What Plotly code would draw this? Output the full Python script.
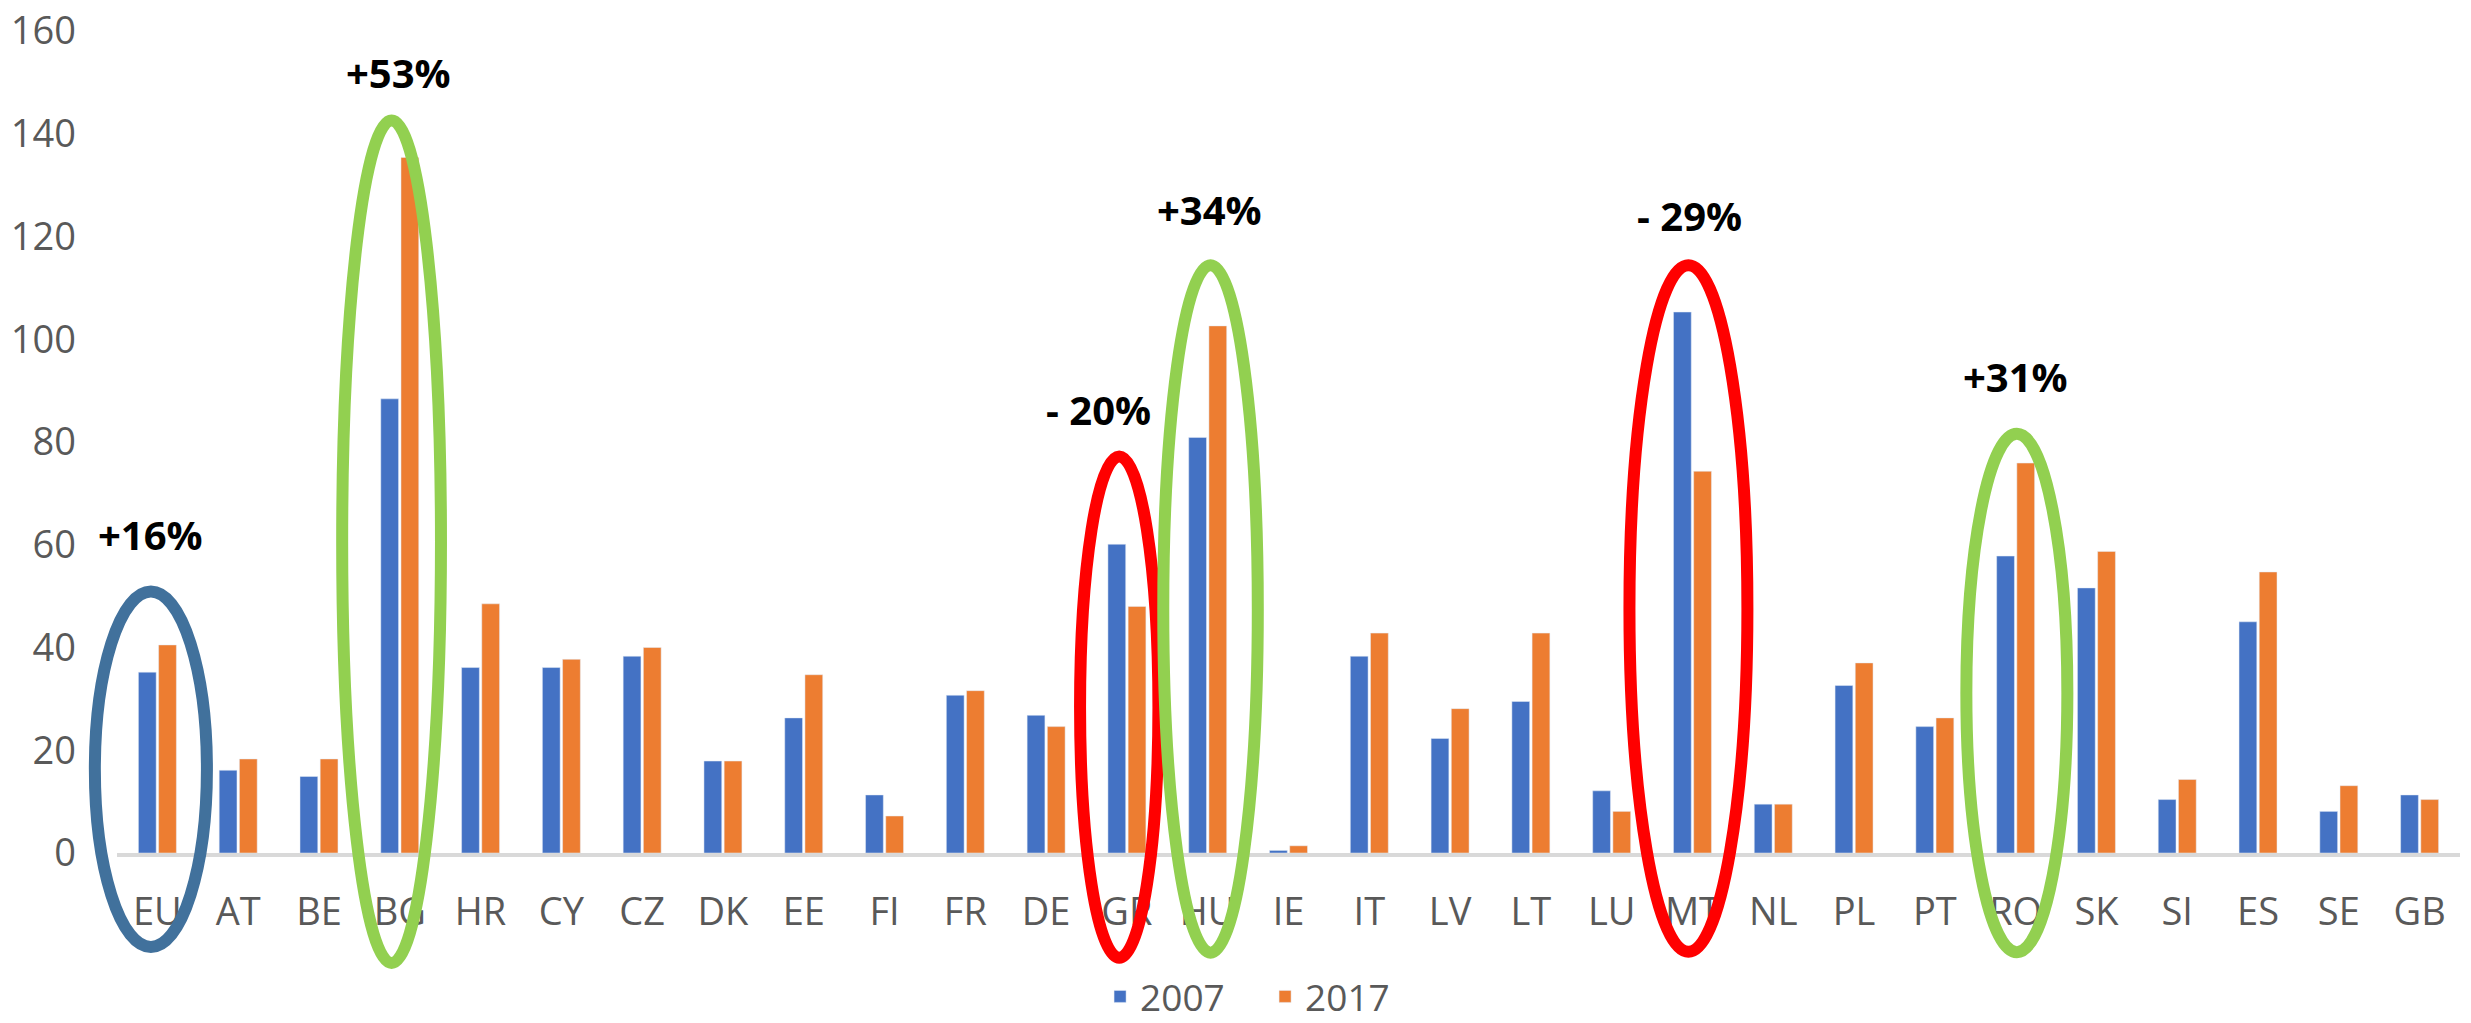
import plotly.graph_objects as go

# ---- data ----
countries = ["EU", "AT", "BE", "BG", "HR", "CY", "CZ", "DK", "EE", "FI", "FR", "DE", "GR", "HU",
             "IE", "IT", "LV", "LT", "LU", "MT", "NL", "PL", "PT", "RO", "SK", "SI", "ES", "SE", "GB"]
values_2007 = [35.2, 16.1, 14.9, 88.4, 36.1, 36.1, 38.3, 17.9, 26.3, 11.3, 30.7, 26.8, 60.1, 80.9,
               0.5, 38.3, 22.3, 29.5, 12.1, 105.3, 9.5, 32.6, 24.6, 57.8, 51.6, 10.4, 45.0, 8.1, 11.3]
values_2017 = [40.5, 18.3, 18.3, 135.4, 48.5, 37.7, 40.0, 17.9, 34.7, 7.2, 31.6, 24.6, 48.0, 102.6,
               1.4, 42.8, 28.1, 42.8, 8.1, 74.3, 9.5, 37.0, 26.3, 75.9, 58.7, 14.3, 54.7, 13.1, 10.4]
series_names = ["2007", "2017"]
y_ticks = [0, 20, 40, 60, 80, 100, 120, 140, 160]

# highlighted groups: label text, label position (category index, value), ellipse extent
highlight_labels = ["+16%", "+53%", "- 20%", "+34%", "- 29%", "+31%"]
label_x = [-0.09, 2.98, 11.65, 13.02, 18.96, 23.0]
label_y = [62.0, 152.0, 86.4, 125.3, 124.1, 92.8]
ellipse_x0 = [-0.774, 2.287, 11.42, 12.45, 18.22, 22.39]
ellipse_x1 = [0.613, 3.51, 12.39, 13.62, 19.68, 23.64]
ellipse_y0 = [-18.3, -21.4, -20.4, -19.4, -19.2, -19.3]
ellipse_y1 = [50.9, 142.6, 77.2, 114.4, 114.4, 81.6]
ellipse_colors = ["#41719C", "#92D050", "#FF0000", "#92D050", "#FF0000", "#92D050"]

# ---- styles ----
BLUE = "#4472C4"
ORANGE = "#ED7D31"
TEXT = "#595959"
FONT = "Open Sans"
Y_MAX = 160

fig = go.Figure()
fig.add_trace(go.Bar(x=list(range(len(countries))), y=values_2007, name=series_names[0],
                     marker_color=BLUE))
fig.add_trace(go.Bar(x=list(range(len(countries))), y=values_2017, name=series_names[1],
                     marker_color=ORANGE))

n = len(countries)


def to_paper_x(idx):
    return (idx + 0.5) / n


def to_paper_y(v):
    return v / Y_MAX


shapes = []
for x0, x1, y0, y1, c in zip(ellipse_x0, ellipse_x1, ellipse_y0, ellipse_y1, ellipse_colors):
    shapes.append(dict(type="circle", xref="paper", yref="paper",
                       x0=to_paper_x(x0), x1=to_paper_x(x1),
                       y0=to_paper_y(y0), y1=to_paper_y(y1),
                       line=dict(color=c, width=12), layer="above"))

annotations = []
for t, x, y in zip(highlight_labels, label_x, label_y):
    annotations.append(dict(text="<b>" + t + "</b>", x=x, y=y, xref="x", yref="y",
                            showarrow=False, xanchor="center", yanchor="middle",
                            font=dict(family=FONT, size=40, color="#000000")))

fig.update_layout(
    width=2471, height=1023,
    margin=dict(l=117, r=11, t=31, b=170, autoexpand=False),
    paper_bgcolor="white", plot_bgcolor="white",
    barmode="group", bargap=0.5, bargroupgap=0.12,
    font=dict(family=FONT, size=38, color=TEXT),
    shapes=shapes, annotations=annotations,
    showlegend=True,
    legend=dict(orientation="h", x=0.490, xanchor="center", y=-0.175, yanchor="middle",
                entrywidth=120, entrywidthmode="pixels",
                font=dict(family=FONT, size=37, color=TEXT), bgcolor="rgba(0,0,0,0)"),
)
fig.update_xaxes(range=[-0.5, n - 0.5], tickmode="array", tickvals=list(range(n)),
                 ticktext=countries, showgrid=False, zeroline=False,
                 showline=True, linecolor="#D9D9D9", linewidth=4, ticks="",
                 ticklabelstandoff=22, tickfont=dict(family=FONT, size=38, color=TEXT))
fig.update_yaxes(range=[0, Y_MAX], tickmode="array", tickvals=y_ticks, showgrid=False,
                 zeroline=False, showline=False, ticks="", ticklabelstandoff=40,
                 tickfont=dict(family=FONT, size=38, color=TEXT))

fig.write_html("out.html")
